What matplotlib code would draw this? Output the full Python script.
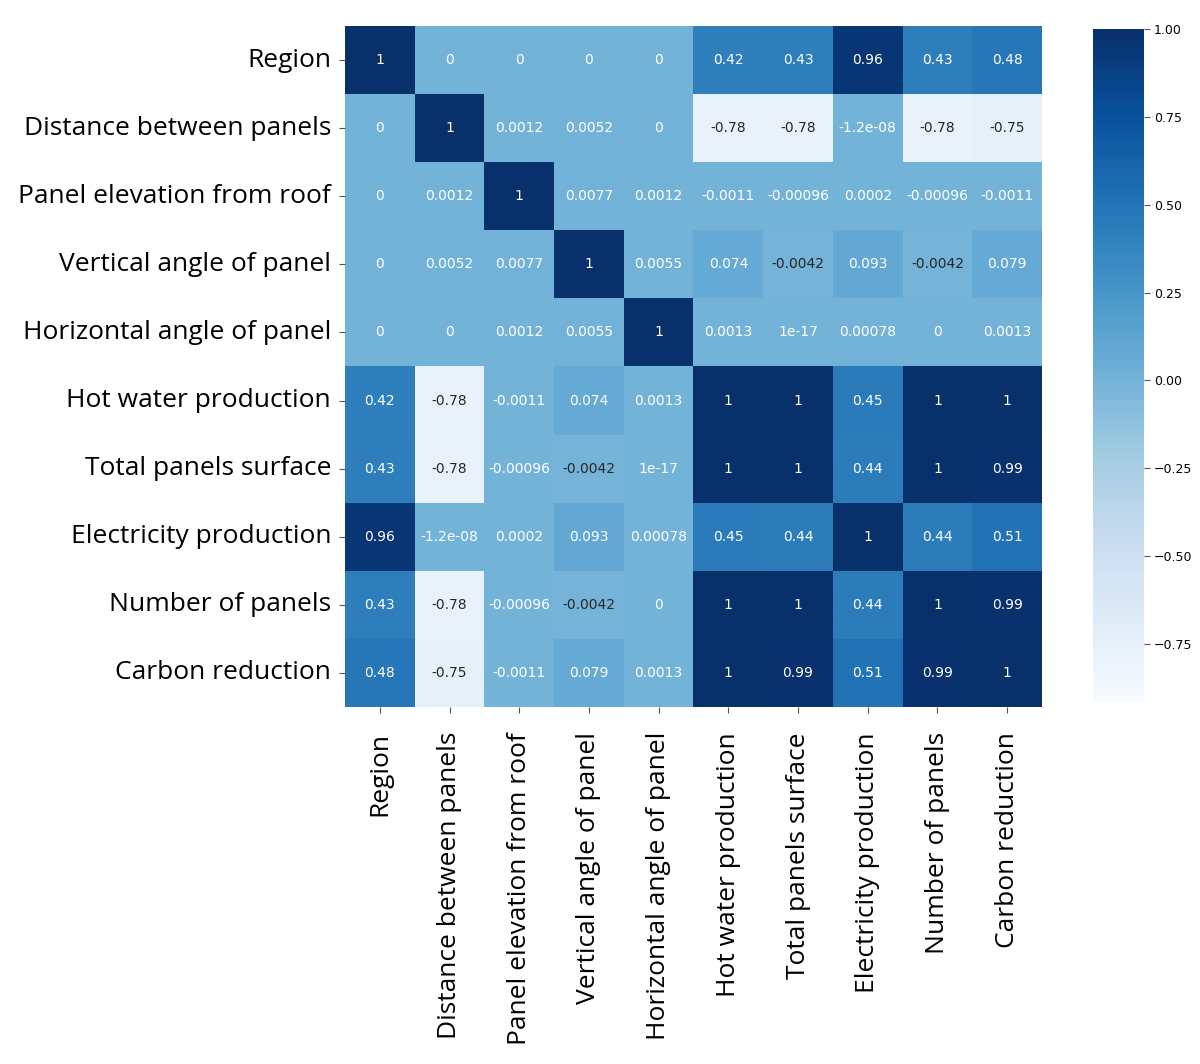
import matplotlib
matplotlib.use("Agg")
import matplotlib.pyplot as plt
import seaborn as sns
import pandas as pd

labels = ["Region", "Distance between panels", "Panel elevation from roof",
          "Vertical angle of panel", "Horizontal angle of panel",
          "Hot water production", "Total panels surface",
          "Electricity production", "Number of panels", "Carbon reduction"]

# correlation rows, same order as labels
region = [1, 0, 0, 0, 0, 0.42, 0.43, 0.96, 0.43, 0.48]
distance = [0, 1, 0.0012, 0.0052, 0, -0.78, -0.78, -1.2e-08, -0.78, -0.75]
elevation = [0, 0.0012, 1, 0.0077, 0.0012, -0.0011, -0.00096, 0.0002, -0.00096, -0.0011]
vertical = [0, 0.0052, 0.0077, 1, 0.0055, 0.074, -0.0042, 0.093, -0.0042, 0.079]
horizontal = [0, 0, 0.0012, 0.0055, 1, 0.0013, 1e-17, 0.00078, 0, 0.0013]
hot_water = [0.42, -0.78, -0.0011, 0.074, 0.0013, 1, 1, 0.45, 1, 1]
surface = [0.43, -0.78, -0.00096, -0.0042, 1e-17, 1, 1, 0.44, 1, 0.99]
electricity = [0.96, -1.2e-08, 0.0002, 0.093, 0.00078, 0.45, 0.44, 1, 0.44, 0.51]
n_panels = [0.43, -0.78, -0.00096, -0.0042, 0, 1, 1, 0.44, 1, 0.99]
carbon = [0.48, -0.75, -0.0011, 0.079, 0.0013, 1, 0.99, 0.51, 0.99, 1]

cbar_ticks = [1.0, 0.75, 0.5, 0.25, 0.0, -0.25, -0.5, -0.75]

corr = pd.DataFrame([region, distance, elevation, vertical, horizontal,
                     hot_water, surface, electricity, n_panels, carbon],
                    index=labels, columns=labels)

fig = plt.figure(figsize=(12, 10.64), dpi=100)
ax = fig.add_axes([0.2875, 0.3355, 0.5808, 0.6401])
cax = fig.add_axes([0.911, 0.3402, 0.042, 0.6325])

sns.heatmap(corr, ax=ax, cbar_ax=cax, cmap="Blues", vmin=-0.915, vmax=1,
            annot=True, fmt=".2g", annot_kws={"fontsize": 10})

# annotation colours as in the original: dark only on the lighter cells
vals = corr.values.ravel()
for txt, v in zip(ax.texts, vals):
    txt.set_color("#262626" if v < -0.002 else "white")

ax.tick_params(axis="both", length=4, color="#555555")
ax.tick_params(axis="x", pad=14)
ax.tick_params(axis="y", pad=6)
ax.set_xticklabels(labels, rotation=90, fontsize=19, family="Open Sans")
ax.set_yticklabels(labels, rotation=0, fontsize=19, family="Open Sans")

cax.set_yticks(cbar_ticks)
cax.set_yticklabels([f"{t:.2f}".replace("-", "\u2212") for t in cbar_ticks])
cax.tick_params(labelsize=9, length=4, color="#555555")

fig.savefig("out.png", dpi=100)
